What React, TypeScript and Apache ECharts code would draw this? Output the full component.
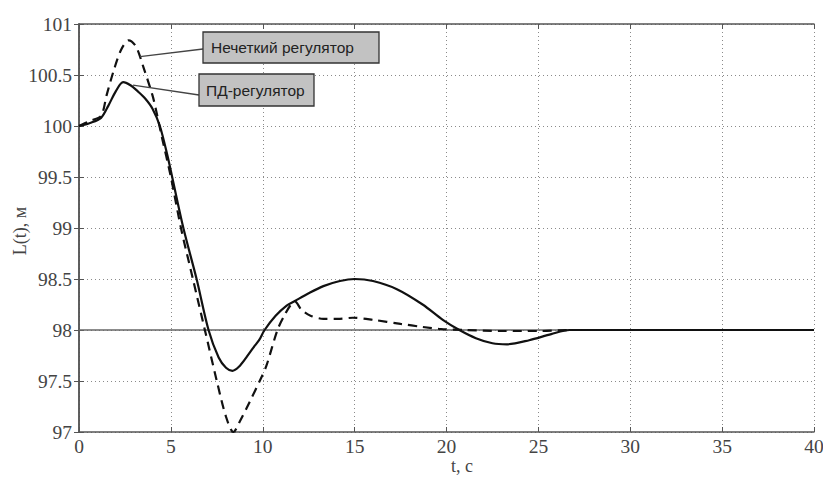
import React, { useEffect, useRef } from "react";
import * as echarts from "echarts";

const pdT = [0, 0.6, 1.2, 1.6, 2.0, 2.4, 2.8, 3.2, 3.6, 4.0, 4.4, 4.8, 5.07, 5.68, 6.4, 7.05, 7.6, 8.0, 8.35, 8.7, 9.1, 9.5, 9.8, 10.1, 10.7, 11.3, 11.7, 12.5, 13.3, 14.2, 15.0, 16.0, 17.3, 18.7, 19.8, 20.7, 21.6, 22.5, 23.3, 24.5, 25.7, 26.7, 30, 35, 40];
const pdV = [100, 100.03, 100.08, 100.2, 100.34, 100.43, 100.4, 100.34, 100.27, 100.17, 100.0, 99.72, 99.5, 99.0, 98.5, 98.0, 97.73, 97.63, 97.6, 97.64, 97.73, 97.83, 97.9, 98.0, 98.14, 98.24, 98.28, 98.36, 98.43, 98.48, 98.5, 98.48, 98.4, 98.25, 98.1, 98.0, 97.92, 97.87, 97.86, 97.9, 97.96, 98.0, 98.0, 98.0, 98.0];

const fuzzyT = [0, 0.6, 1.2, 1.5, 1.9, 2.3, 2.7, 3.1, 3.5, 4.0, 4.2, 4.5, 5.0, 5.55, 6.2, 6.85, 7.5, 8.0, 8.4, 8.8, 9.3, 9.86, 10.2, 10.8, 11.2, 11.5, 11.75, 12.1, 12.6, 13.3, 14.2, 14.9, 16.0, 17.5, 18.7, 19.7, 21, 23, 25, 27, 30, 35, 40];
const fuzzyV = [100, 100.05, 100.1, 100.3, 100.55, 100.75, 100.84, 100.78, 100.58, 100.3, 100.15, 99.9, 99.5, 99.0, 98.5, 98.0, 97.5, 97.15, 97.0, 97.12, 97.3, 97.51, 97.65, 98.0, 98.15, 98.24, 98.28, 98.2, 98.14, 98.11, 98.11, 98.12, 98.1, 98.06, 98.03, 98.01, 98.0, 97.99, 97.99, 98.0, 98.0, 98.0, 98.0];

const seriesNames = ["Нечеткий регулятор", "ПД-регулятор"];
const axisNames = { x: "t, c", y: "L(t), м" };
const setpoint = 98;
const xTicks = { min: 0, max: 40, interval: 5 };
const yTicks = { min: 97, max: 101, interval: 0.5 };
// anchor points on curves for the annotation leader lines
const fuzzyAnchor = [3.32, 100.68];
const pdAnchor = [2.94, 100.4];

const zip = (t: number[], v: number[]) => t.map((x, i) => [x, v[i]]);

export default function App() {
  const ref = useRef<HTMLDivElement>(null);
  useEffect(() => {
    if (!ref.current) return;
    const chart = echarts.init(ref.current, null, { renderer: "svg" });
    const serif = "'Liberation Serif', 'DejaVu Serif', serif";
    const axisCol = "#555";
    const baseX = {
      type: "value" as const,
      min: xTicks.min,
      max: xTicks.max,
      interval: xTicks.interval,
    };
    const baseY = {
      type: "value" as const,
      min: yTicks.min,
      max: yTicks.max,
      interval: yTicks.interval,
    };
    chart.setOption({
      animation: false,
      backgroundColor: "#fff",
      grid: { left: 79, right: 9, top: 24, bottom: 45, containLabel: false, outerBoundsMode: "none" },
      xAxis: [
        {
          ...baseX,
          position: "bottom",
          axisLine: { show: true, lineStyle: { color: axisCol, width: 1.5 } },
          axisTick: { show: true, inside: true, length: 5, lineStyle: { color: axisCol } },
          axisLabel: { color: "#444", fontFamily: serif, fontSize: 19.5, margin: 4 },
          splitLine: { show: true, lineStyle: { color: "#8a8a8a", type: [1, 3], width: 1 } },
        },
        {
          ...baseX,
          position: "top",
          axisLine: { show: true, lineStyle: { color: axisCol, width: 1.5 } },
          axisTick: { show: true, inside: true, length: 5, lineStyle: { color: axisCol } },
          axisLabel: { show: false },
          splitLine: { show: false },
        },
      ],
      yAxis: [
        {
          ...baseY,
          position: "left",
          axisLine: { show: true, lineStyle: { color: axisCol, width: 1.5 } },
          axisTick: { show: true, inside: true, length: 5, lineStyle: { color: axisCol } },
          axisLabel: { color: "#444", fontFamily: serif, fontSize: 19.5, margin: 7 },
          splitLine: { show: true, lineStyle: { color: "#8a8a8a", type: [1, 3], width: 1 } },
        },
        {
          ...baseY,
          position: "right",
          axisLine: { show: true, lineStyle: { color: axisCol, width: 1.5 } },
          axisTick: { show: true, inside: true, length: 5, lineStyle: { color: axisCol } },
          axisLabel: { show: false },
          splitLine: { show: false },
        },
      ],
      series: [
        {
          name: "setpoint",
          type: "line",
          data: [[xTicks.min, setpoint], [xTicks.max, setpoint]],
          symbol: "none",
          lineStyle: { color: "#666", width: 1.5 },
          silent: true,
          z: 1,
        },
        {
          name: seriesNames[1],
          type: "line",
          data: zip(pdT, pdV),
          smooth: 0.3,
          symbol: "none",
          lineStyle: { color: "#111", width: 2.2, type: "solid" },
          z: 3,
        },
        {
          name: seriesNames[0],
          type: "line",
          data: zip(fuzzyT, fuzzyV),
          smooth: 0.3,
          symbol: "none",
          lineStyle: { color: "#111", width: 2.2, type: [9, 6] },
          z: 4,
        },
      ],
    });

    const fa = chart.convertToPixel({ gridIndex: 0 }, fuzzyAnchor) as number[];
    const pa = chart.convertToPixel({ gridIndex: 0 }, pdAnchor) as number[];
    const box1 = { x: 203, y: 32, w: 176, h: 31 };
    const box2 = { x: 199, y: 74, w: 115, h: 32 };
    const sans = "'Liberation Sans', Arial, sans-serif";
    chart.setOption({
      graphic: [
        {
          type: "line",
          shape: { x1: fa[0], y1: fa[1], x2: box1.x, y2: box1.y + 17 },
          style: { stroke: "#444", lineWidth: 1.3 },
          z: 10,
        },
        {
          type: "line",
          shape: { x1: pa[0], y1: pa[1], x2: box2.x, y2: box2.y + 21 },
          style: { stroke: "#444", lineWidth: 1.3 },
          z: 10,
        },
        {
          type: "rect",
          shape: { x: box1.x, y: box1.y, width: box1.w, height: box1.h },
          style: { fill: "#c2c2c2", stroke: "#333", lineWidth: 1.3 },
          z: 11,
        },
        {
          type: "text",
          x: box1.x + 8,
          y: box1.y + box1.h / 2,
          style: { text: seriesNames[0], fill: "#222", font: `15.5px ${sans}`, verticalAlign: "middle" },
          z: 12,
        },
        {
          type: "rect",
          shape: { x: box2.x, y: box2.y, width: box2.w, height: box2.h },
          style: { fill: "#c2c2c2", stroke: "#333", lineWidth: 1.3 },
          z: 11,
        },
        {
          type: "text",
          x: box2.x + 7,
          y: box2.y + box2.h / 2,
          style: { text: seriesNames[1], fill: "#222", font: `15.5px ${sans}`, verticalAlign: "middle" },
          z: 12,
        },
        {
          type: "text",
          x: 462,
          y: 457,
          style: { text: axisNames.x, fill: "#444", font: `18px ${serif}`, align: "center", verticalAlign: "top" },
          z: 12,
        },
        {
          type: "text",
          x: 20,
          y: 231,
          rotation: Math.PI / 2,
          style: { text: axisNames.y, fill: "#444", font: `18px ${serif}`, align: "center", verticalAlign: "middle" },
          z: 12,
        },
      ],
    });
    return () => chart.dispose();
  }, []);
  return <div ref={ref} style={{ width: 823, height: 477, position: "absolute", left: 0, top: 0 }} />;
}
